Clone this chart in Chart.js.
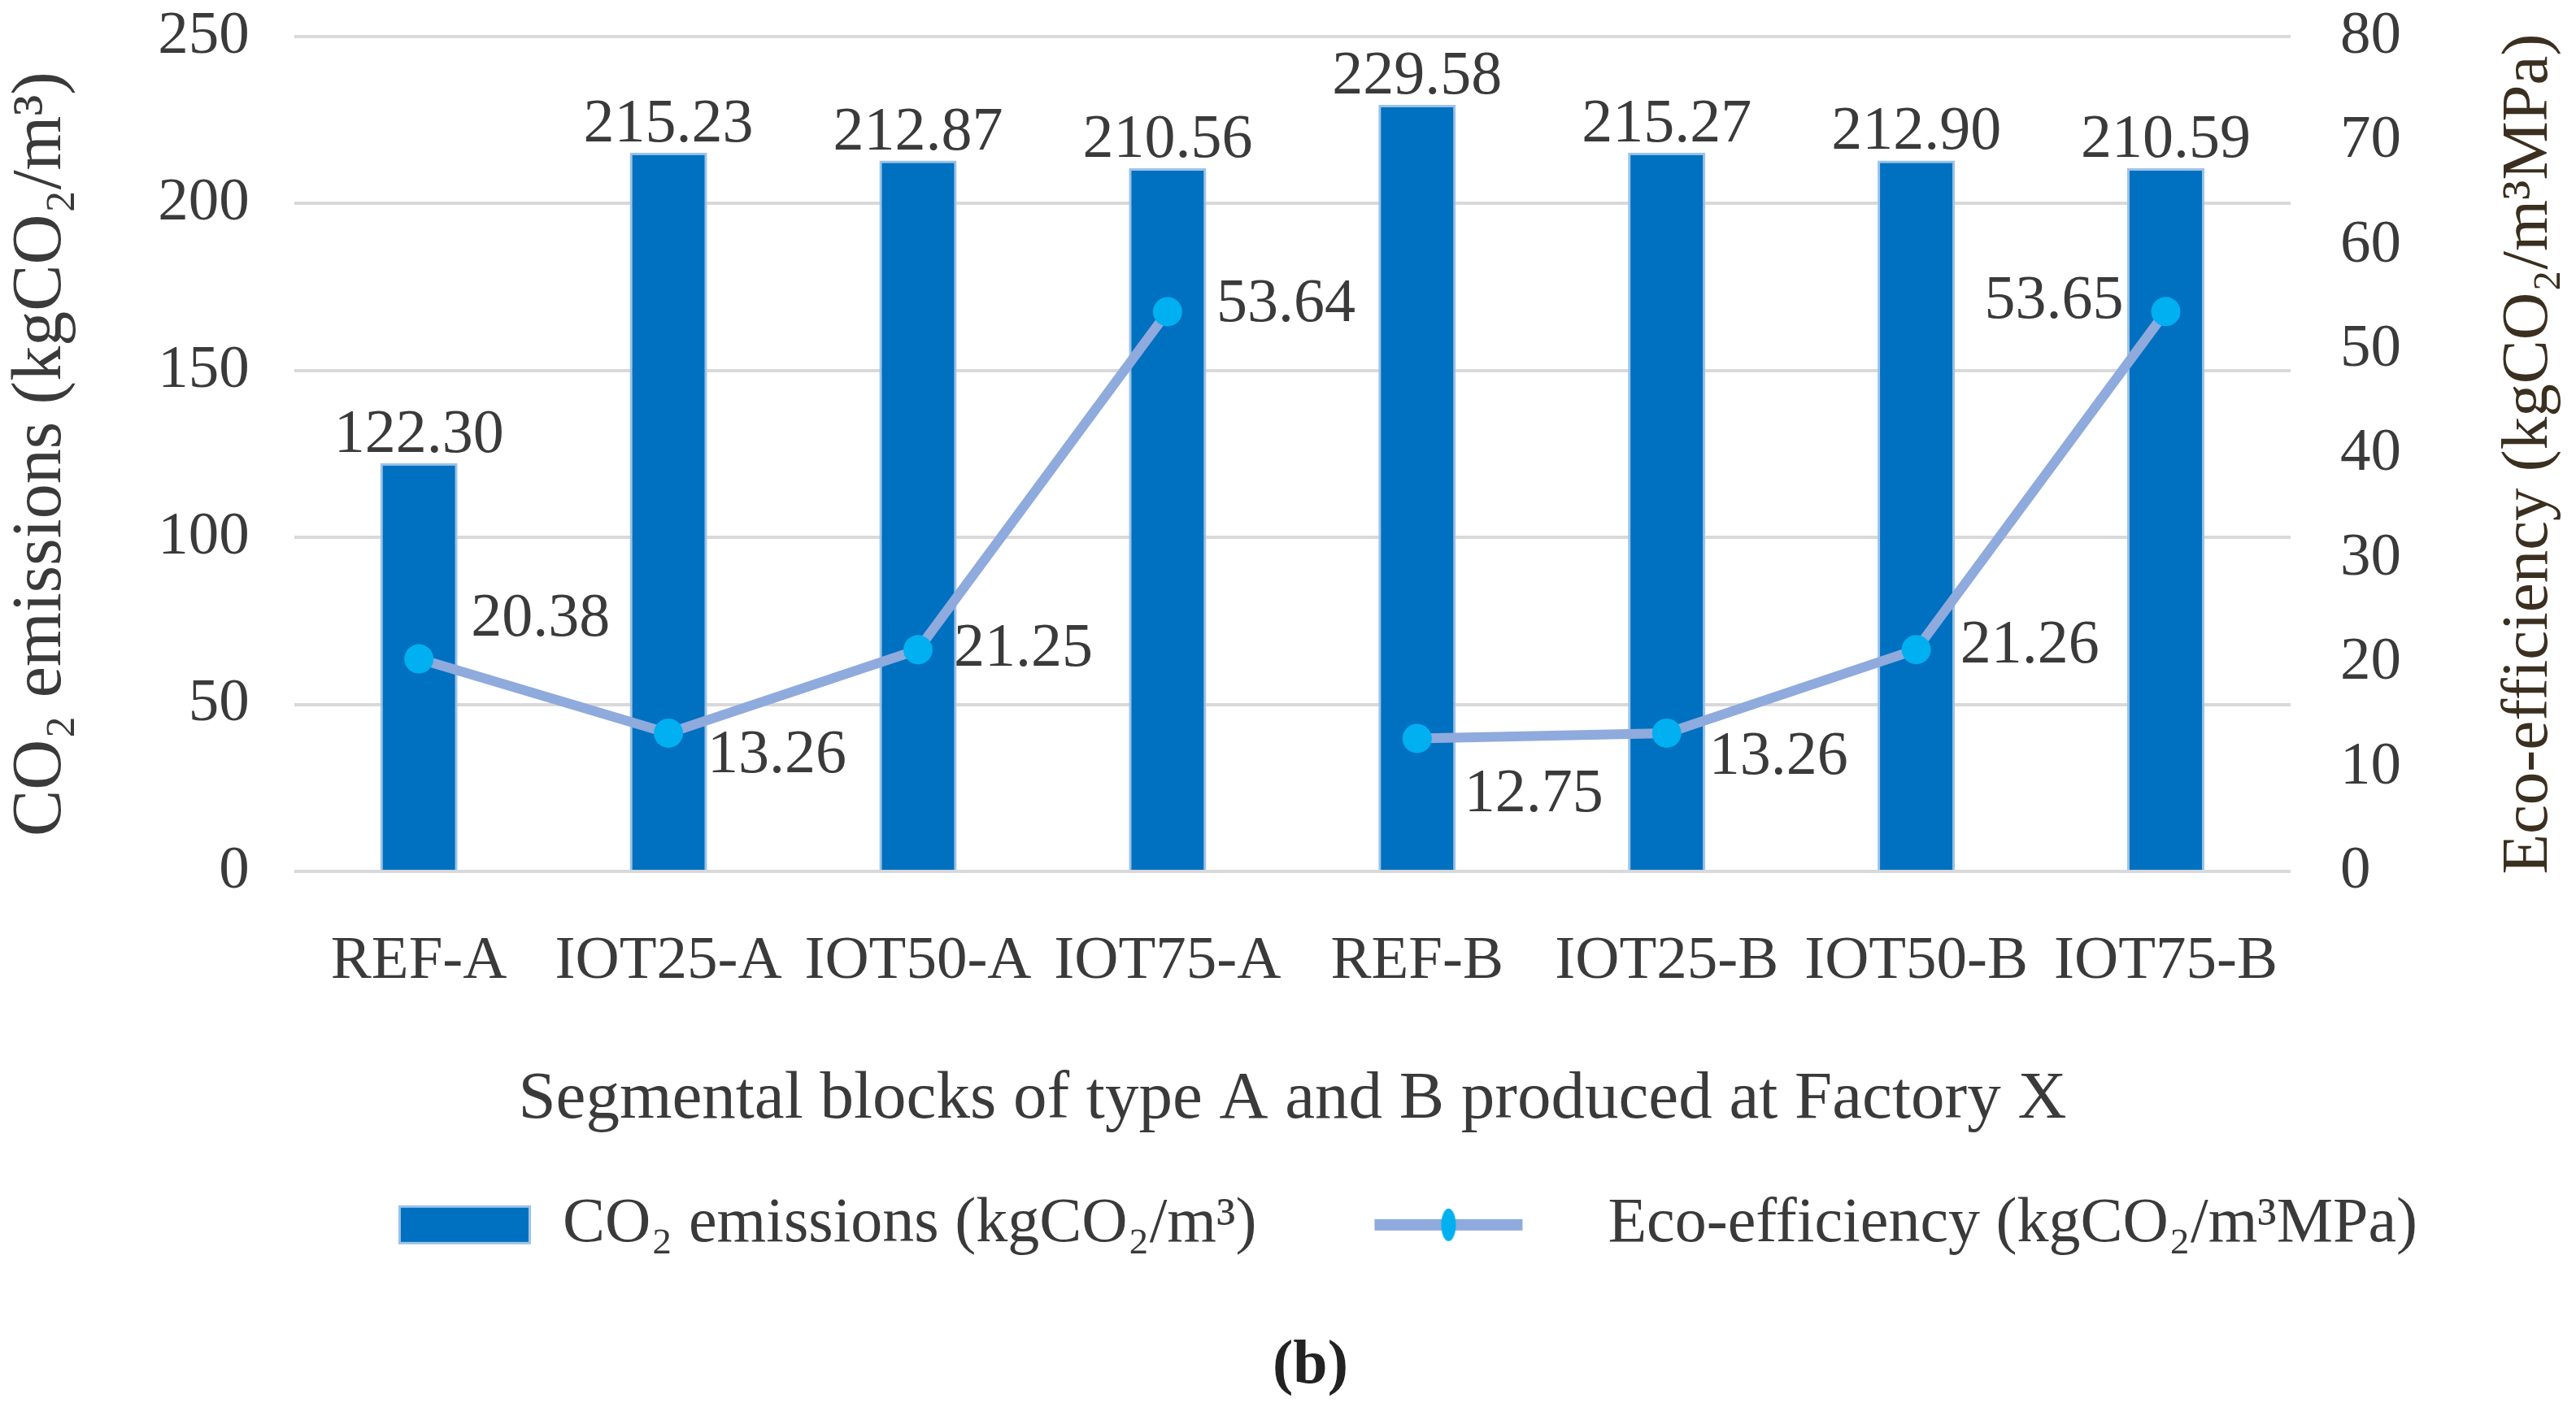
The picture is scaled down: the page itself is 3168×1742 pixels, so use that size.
<!DOCTYPE html>
<html>
<head>
<meta charset="utf-8">
<script src="https://cdn.jsdelivr.net/npm/chart.js@4.4.1/dist/chart.umd.min.js"></script>
<style>
	html, body { margin: 0; padding: 0; background: #fff; }
	#wrap { width: 3168px; height: 1742px; }
</style>
</head>
<body>
<div id="wrap"><canvas id="myChart"></canvas></div>
<script>
const categories = ['REF-A', 'IOT25-A', 'IOT50-A', 'IOT75-A', 'REF-B', 'IOT25-B', 'IOT50-B', 'IOT75-B'];
const co2Emissions = [122.30, 215.23, 212.87, 210.56, 229.58, 215.27, 212.90, 210.59];
const ecoEfficiency = [20.38, 13.26, 21.25, 53.64, 12.75, 13.26, 21.26, 53.65];
const leftTicks = [0, 50, 100, 150, 200, 250];
const rightTicks = [0, 10, 20, 30, 40, 50, 60, 70, 80];

const co2Label = 'CO\u2082 emissions (kgCO\u2082/m\u00B3)';
const ecoLabel = 'Eco-efficiency (kgCO\u2082/m\u00B3MPa)';
const xTitle = 'Segmental blocks of type A and B produced at Factory X';

// where each eco-efficiency label sits relative to its point: [dx, dy, align]
const ecoLabelPlacement = [
	[64, -48, 'left'], [48, 28, 'left'], [44, 0, 'left'], [60, -8, 'left'],
	[58, 70, 'left'], [52, 30, 'left'], [54, -4, 'left'], [-52, -12, 'right'],
];

const FONT = '"Liberation Serif", "DejaVu Serif", serif';
const TEXT = '#3a3a3a';
const BAR = '#0070C0';
const LINE = '#8FAADC';
const DOT = '#00B0F0';
const NONE = 'rgba(0,0,0,0)';

// the line is broken between the A blocks and the B blocks
const blockType = (i) => categories[i].split('-')[1];

function makeSwatch(kind) {
	const c = document.createElement('canvas');
	c.width = 373;
	c.height = 60;
	const g = c.getContext('2d');
	if (kind === 'bar') {
		g.fillStyle = '#9DC3E6';
		g.fillRect(210, 6, 163, 48);
		g.fillStyle = BAR;
		g.fillRect(213, 9, 157, 42);
	} else {
		g.strokeStyle = LINE;
		g.lineWidth = 14;
		g.beginPath();
		g.moveTo(125, 30);
		g.lineTo(307, 30);
		g.stroke();
		g.fillStyle = DOT;
		g.beginPath();
		g.ellipse(216, 30, 9, 20, 0, 0, Math.PI * 2);
		g.fill();
	}
	return c;
}
const barSwatch = makeSwatch('bar');
const lineSwatch = makeSwatch('line');

const valueLabels = {
	id: 'valueLabels',
	afterLayout(chart) {
		// legend and caption sit a little right of centre in the original
		chart.legend.left += 150;
		chart.legend.right += 150;
		chart.titleBlock.left += 135;
		chart.titleBlock.right += 135;
	},
	afterDatasetsDraw(chart) {
		const ctx = chart.ctx;
		ctx.save();
		ctx.font = '76px ' + FONT;
		ctx.fillStyle = TEXT;
		chart.getDatasetMeta(0).data.forEach((el, i) => {
			ctx.textAlign = 'center';
			ctx.textBaseline = 'alphabetic';
			ctx.fillText(co2Emissions[i].toFixed(2), el.x, el.y - 14);
		});
		ctx.textBaseline = 'middle';
		chart.getDatasetMeta(1).data.forEach((el, i) => {
			const p = ecoLabelPlacement[i];
			ctx.textAlign = p[2];
			ctx.fillText(ecoEfficiency[i].toFixed(2), el.x + p[0], el.y + p[1]);
		});
		ctx.restore();
	},
	afterDraw(chart) {
		// secondary axis title reads bottom-to-top
		const ctx = chart.ctx;
		const area = chart.chartArea;
		ctx.save();
		ctx.font = '81px ' + FONT;
		ctx.fillStyle = '#3b2f20';
		ctx.textAlign = 'center';
		ctx.textBaseline = 'middle';
		ctx.translate(3111, (area.top + area.bottom) / 2);
		ctx.rotate(-Math.PI / 2);
		ctx.fillText(ecoLabel, 0, 0);
		ctx.restore();
	},
};

const ctx = document.getElementById('myChart');

const data = {
	labels: categories,
	datasets: [
		{
			type: 'bar',
			label: co2Label,
			data: co2Emissions,
			backgroundColor: BAR,
			borderColor: '#9DC3E6',
			borderWidth: 3,
			categoryPercentage: 1,
			barPercentage: 0.31,
			yAxisID: 'y',
			order: 2,
		},
		{
			type: 'line',
			label: ecoLabel,
			data: ecoEfficiency,
			borderColor: LINE,
			borderWidth: 12,
			pointRadius: 18,
			pointBackgroundColor: DOT,
			pointBorderWidth: 0,
			tension: 0,
			segment: {
				borderColor: (c) => (blockType(c.p0DataIndex) !== blockType(c.p1DataIndex) ? NONE : undefined),
			},
			yAxisID: 'y1',
			order: 1,
		},
	],
};

const config = {
	type: 'bar',
	data: data,
	plugins: [valueLabels],
	options: {
		responsive: true,
		maintainAspectRatio: false,
		animation: false,
		layout: {
			padding: { left: 0, right: 215, top: 17, bottom: 5 },
		},
		scales: {
			x: {
				grid: { display: false, drawTicks: false },
				border: { display: false },
				ticks: { font: { family: FONT, size: 75 }, color: TEXT, padding: 66 },
				title: {
					display: true,
					text: xTitle,
					font: { family: FONT, size: 83 },
					color: TEXT,
					padding: { top: 9, bottom: 45 },
				},
			},
			y: {
				position: 'left',
				min: leftTicks[0],
				max: leftTicks[leftTicks.length - 1],
				ticks: { stepSize: leftTicks[1] - leftTicks[0], font: { family: FONT, size: 75 }, color: TEXT, padding: 0 },
				grid: { color: '#d9d9d9', lineWidth: 4, drawTicks: true, tickLength: 55, tickColor: NONE },
				border: { display: false },
				title: {
					display: true,
					text: co2Label,
					font: { family: FONT, size: 86 },
					color: TEXT,
					padding: { top: 0, bottom: 91 },
				},
			},
			y1: {
				position: 'right',
				min: rightTicks[0],
				max: rightTicks[rightTicks.length - 1],
				ticks: { stepSize: rightTicks[1] - rightTicks[0], font: { family: FONT, size: 75 }, color: TEXT, padding: 0 },
				grid: { drawOnChartArea: false, drawTicks: true, tickLength: 61, tickColor: NONE },
				border: { display: false },
			},
		},
		plugins: {
			legend: {
				position: 'bottom',
				labels: {
					usePointStyle: true,
					pointStyleWidth: 373,
					padding: 20,
					color: TEXT,
					font: { family: FONT, size: 78 },
					generateLabels: () => [
						{ text: co2Label, pointStyle: barSwatch, fontColor: TEXT, datasetIndex: 0, hidden: false, lineWidth: 0 },
						{ text: ecoLabel, pointStyle: lineSwatch, fontColor: TEXT, datasetIndex: 1, hidden: false, lineWidth: 0 },
					],
				},
			},
			title: {
				display: true,
				position: 'bottom',
				text: '(b)',
				color: '#222',
				font: { family: FONT, size: 76, weight: 'bold' },
				padding: { top: 80, bottom: 10 },
			},
			tooltip: { enabled: false },
		},
	},
};

new Chart(ctx, config);
</script>
</body>
</html>
